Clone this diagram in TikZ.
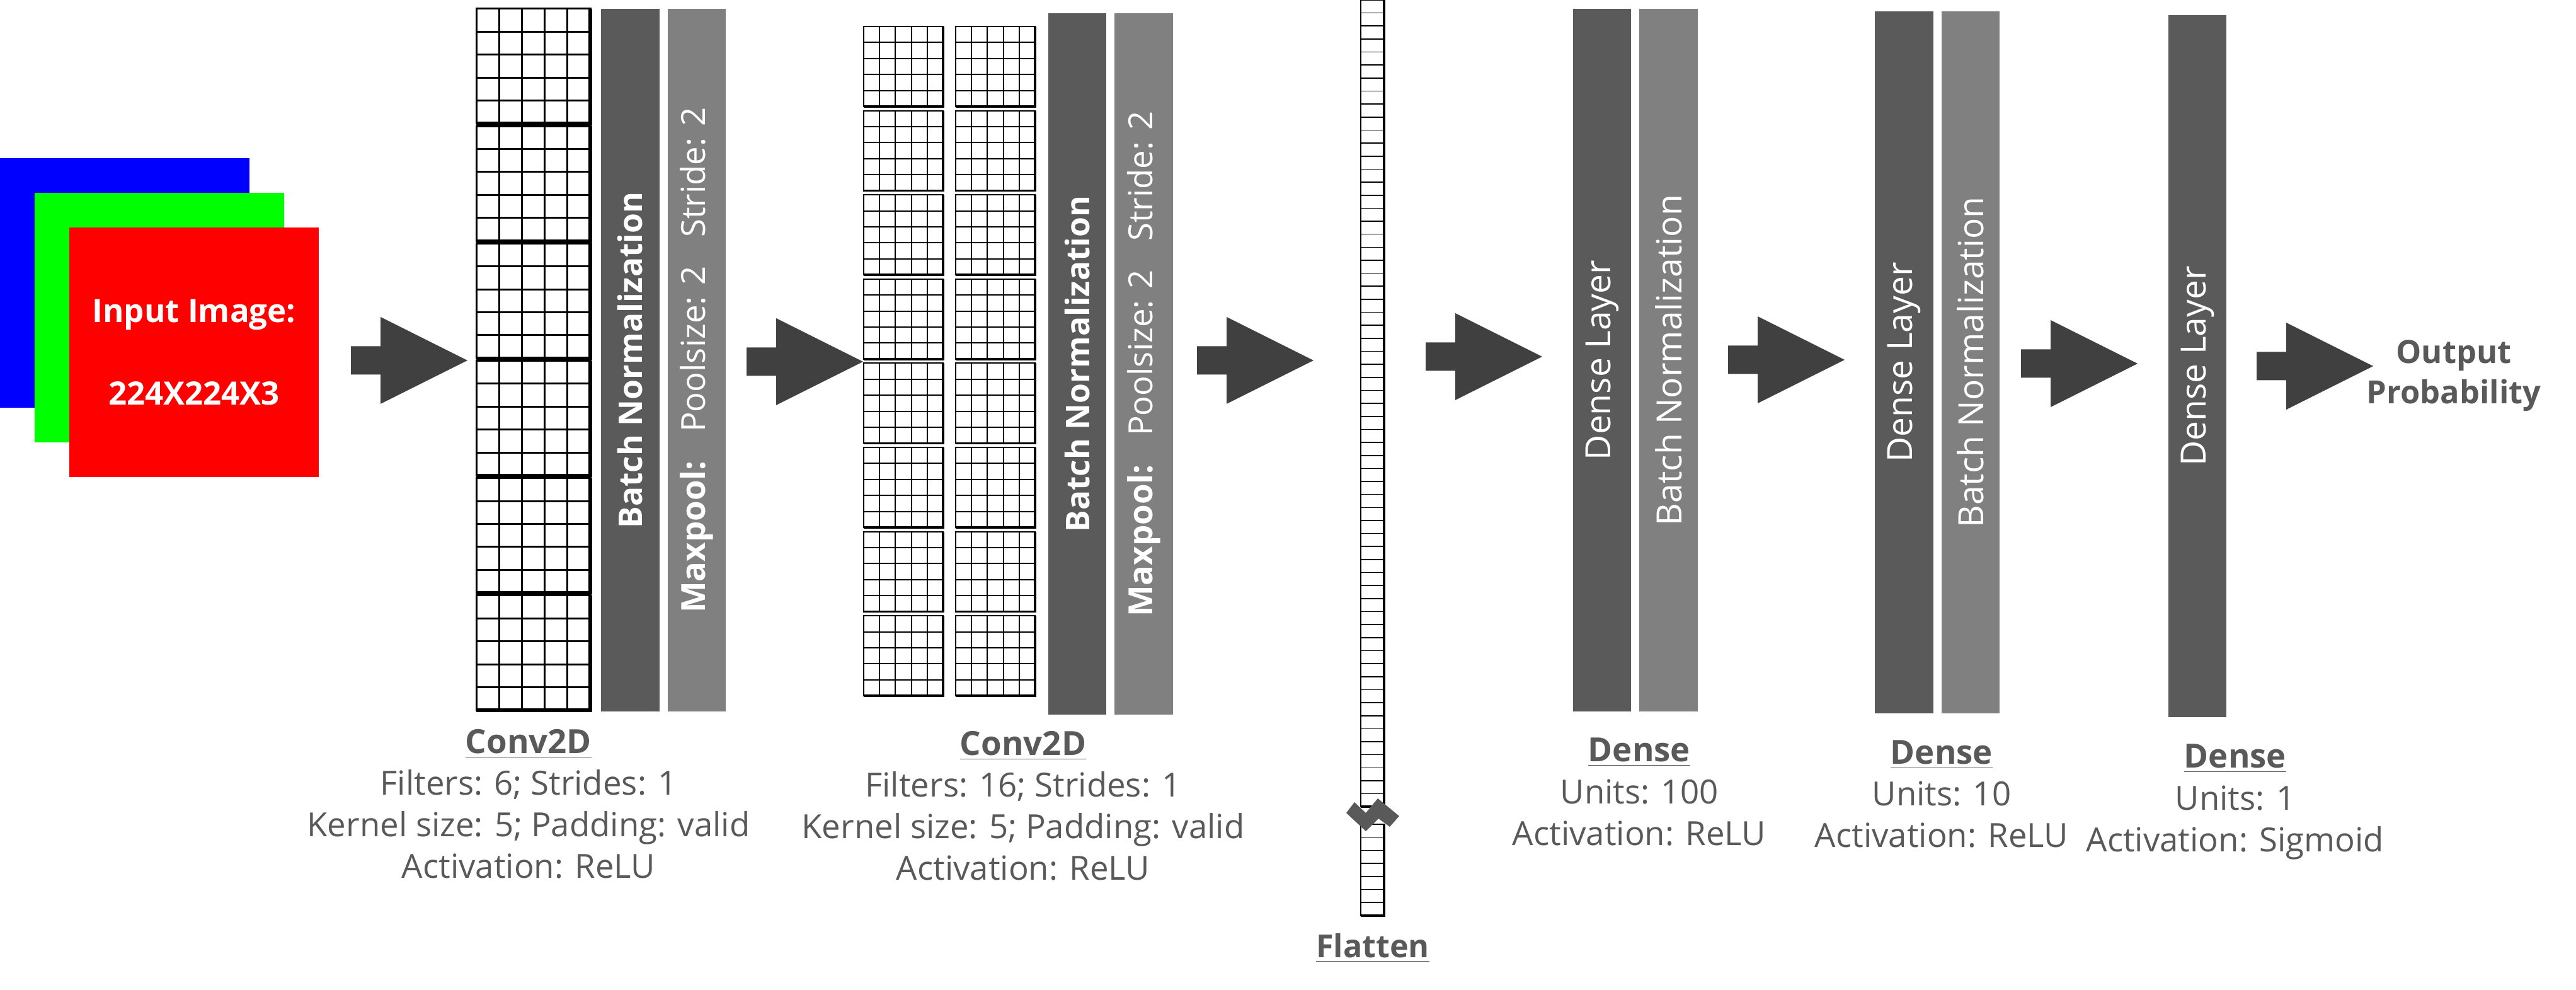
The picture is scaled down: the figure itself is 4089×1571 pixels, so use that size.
\documentclass[tikz,border=0pt]{standalone}
\usepackage{fontspec}
\setmainfont{Open Sans}
\usetikzlibrary{positioning}

\definecolor{bardark}{RGB}{90,90,90}
\definecolor{barlight}{RGB}{128,128,128}
\definecolor{arrowfill}{RGB}{64,64,64}
\definecolor{textgray}{RGB}{89,89,89}

% one 5x5 kernel: x, y, w, h, thin line, thick line
\newcommand{\kernelgrid}[6]{
 \draw[line width=#5] (#1,#2) rectangle ++(#3,#4);
 \foreach \i in {1,...,4} {
  \draw[line width=#5] (#1+\i*#3/5,#2) --++(0,#4);
  \draw[line width=#5] (#1,#2+\i*#4/5) --++(#3,0);
 }
 \draw[line width=#6] (#1+#3,#2) --++(0,#4) --++(-#3,0);
}

\tikzset{
 imgsq/.style={rectangle, inner sep=0pt, minimum size=3.96cm},
 bar/.style={rectangle, inner sep=0pt, rotate=90, minimum height=0.92cm, text=white},
 convtext/.style={font=\bfseries\fontsize{14.7}{17}\selectfont},
 pooltext/.style={font=\fontsize{15}{17}\selectfont},
 densetext/.style={font=\fontsize{15.7}{18}\selectfont},
 caption/.style={text=textgray, inner sep=0pt, anchor=base, font=\fontsize{15}{18}\selectfont},
 heading/.style={caption, font=\bfseries\fontsize{15}{18}\selectfont},
}

\begin{document}
\begin{tikzpicture}[x=0.01cm, y=-0.01cm]
\useasboundingbox (0,0) rectangle (4089,1571);

% input image
\node[imgsq, fill=blue] (chb) at (198,449) {};
\node[imgsq, fill=green] (chg) at (253,504) {};
\node[imgsq, fill=red, text=white, align=center,
 font=\bfseries\fontsize{14.5}{37.3}\selectfont] (chr) at (308,559) {Input Image:\\224X224X3};

% first convolution
\foreach \k in {0,...,5} {
 \kernelgrid{756}{14+\k*186.2}{181}{182}{0.85pt}{1.5pt}
}
\node[bar, fill=bardark, minimum width=11.15cm, convtext] (bn1) at (1000.5,571.5) {Batch Normalization};
\node[bar, fill=barlight, minimum width=11.15cm, pooltext] (mp1) at (1106,571.5)
 {\textbf{Maxpool:}\hspace{0.45cm}Poolsize: 2\hspace{0.45cm}Stride: 2};

% second convolution
\foreach \k in {0,...,7} {
 \kernelgrid{1371}{42+\k*133.6}{126}{127}{0.55pt}{1pt}
 \kernelgrid{1517}{42+\k*133.6}{126}{127}{0.55pt}{1pt}
}
\node[bar, fill=bardark, minimum width=11.13cm, convtext] (bn2) at (1710,577.5) {Batch Normalization};
\node[bar, fill=barlight, minimum width=11.13cm, pooltext] (mp2) at (1815.5,577.5)
 {\textbf{Maxpool:}\hspace{0.45cm}Poolsize: 2\hspace{0.45cm}Stride: 2};

% flatten
\draw[line width=0.5pt] (2160,0) rectangle (2197,1280);
\foreach \k in {1,...,61}
 \draw[line width=0.45pt] (2160,\k*20.65) --++(37,0);
\draw[line width=1pt] (2197,0) -- (2197,1280) -- (2160,1280);
\draw[line width=0.5pt] (2160,1308) rectangle (2197,1453);
\foreach \k in {1,...,6}
 \draw[line width=0.45pt] (2160,1308+\k*20.7) --++(37,0);
\draw[line width=1pt] (2197,1308) -- (2197,1453) -- (2160,1453);
\fill[textgray] (2137,1290) -- (2150,1273) -- (2168,1290) -- (2187,1267) -- (2221,1295)
 -- (2206,1312) -- (2188,1299) -- (2168,1319) -- cycle;
\node[heading, font=\bfseries\fontsize{14.3}{17}\selectfont] (flat) at (2179,1520) {\underline{Flatten}};

% dense layers
\node[bar, fill=bardark, minimum width=11.15cm, densetext] (d1) at (2543,571.5) {Dense Layer};
\node[bar, fill=barlight, minimum width=11.15cm, densetext] (dbn1) at (2648.5,571.5) {Batch Normalization};
\node[bar, fill=bardark, minimum width=11.14cm, densetext] (d2) at (3022.5,575) {Dense Layer};
\node[bar, fill=barlight, minimum width=11.14cm, densetext] (dbn2) at (3128,575) {Batch Normalization};
\node[bar, fill=bardark, minimum width=11.14cm, densetext] (d3) at (3488,581) {Dense Layer};

% arrows
\foreach \ax/\ay in {557/572, 1185/574, 1900/572, 2263/566, 2743/571, 3208/577, 3582/581} {
 \fill[arrowfill] (\ax,\ay-22.5) --++(47,0) --++(0,-46.5) --++(138,69) --++(-138,69)
  --++(0,-46.5) --++(-47,0) -- cycle;
}

% captions
\node[heading] (c1h) at (839,1196) {\underline{Conv2D}};
\foreach \txt [count=\n] in {Filters: 6; Strides: 1, Kernel size: 5; Padding: valid, Activation: ReLU}
 \node[caption] (c1l\n) at (839,1196+\n*65.7) {\txt};
\node[heading] (c2h) at (1624,1199) {\underline{Conv2D}};
\foreach \txt [count=\n] in {Filters: 16; Strides: 1, Kernel size: 5; Padding: valid, Activation: ReLU}
 \node[caption] (c2l\n) at (1624,1199+\n*66) {\txt};
\node[heading] (d1h) at (2602,1209) {\underline{Dense}};
\foreach \txt [count=\n] in {Units: 100, Activation: ReLU}
 \node[caption] (d1l\n) at (2602,1209+\n*66.5) {\txt};
\node[heading] (d2h) at (3082,1213) {\underline{Dense}};
\foreach \txt [count=\n] in {Units: 10, Activation: ReLU}
 \node[caption] (d2l\n) at (3082,1213+\n*66) {\txt};
\node[heading] (d3h) at (3548,1219) {\underline{Dense}};
\foreach \txt [count=\n] in {Units: 1, Activation: Sigmoid}
 \node[caption] (d3l\n) at (3548,1219+\n*66.5) {\txt};

% output
\node[heading, font=\bfseries\fontsize{14.4}{17}\selectfont] (out1) at (3895,577) {Output};
\node[heading, font=\bfseries\fontsize{14.4}{17}\selectfont] (out2) at (3895,641) {Probability};
\end{tikzpicture}
\end{document}
